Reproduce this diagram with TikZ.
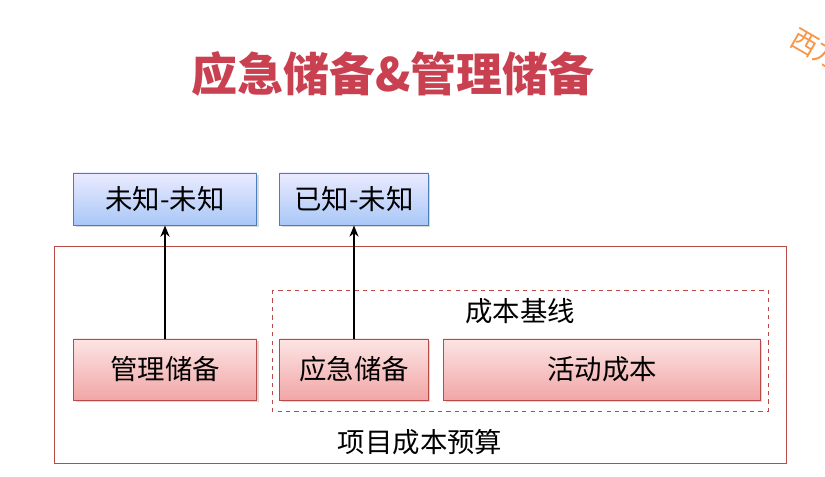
\documentclass[tikz,border=0pt]{standalone}
\usepackage{fontspec}
\setmainfont{Noto Sans CJK SC}
\usetikzlibrary{arrows.meta,shadows}
\definecolor{titlered}{RGB}{201,64,81}
\definecolor{boxred}{RGB}{185,74,72}
\definecolor{boxblue}{RGB}{74,126,187}
\definecolor{wmorange}{RGB}{247,150,70}
\begin{document}
\begin{tikzpicture}[x=0.025cm,y=-0.025cm,
    bluebox/.style={draw=boxblue,line width=0.7pt,top color=blue!8!white,bottom color={rgb,255:red,169;green,199;blue,247},
        minimum height=1.3cm,inner sep=0pt,drop shadow={shadow xshift=1.5pt,shadow yshift=-1.5pt,opacity=0.3}},
    redbox/.style={draw=boxred,line width=0.7pt,top color={rgb,255:red,252;green,228;blue,228},bottom color={rgb,255:red,242;green,166;blue,166},
        minimum height=1.525cm,inner sep=0pt,drop shadow={shadow xshift=1.5pt,shadow yshift=-1.5pt,opacity=0.3}},
    lbl/.style={font=\fontsize{19.5}{23}\selectfont}]
    \clip (0,0) rectangle (825,476);
    % title and corner mark
    \node[text=titlered,font=\fontsize{32.7}{38}\selectfont\bfseries] (T) at (393,74) {应急储备\&管理储备};
    \node[text=wmorange,font=\fontsize{19}{22}\selectfont,rotate=-30,anchor=west] (W) at (789,33) {西方};
    % frames
    \draw[boxred,line width=0.7pt] (54,246) rectangle (786,463);
    \draw[boxred,line width=0.7pt,dashed] (272,290) rectangle (768,411);
    \node[lbl] (L) at (520,311) {成本基线};
    \node[lbl] (P) at (420,442) {项目成本预算};
    % boxes
    \node[bluebox,lbl,minimum width=4.575cm] (U) at (165,199) {未知-未知};
    \node[bluebox,lbl,minimum width=3.7cm] (K) at (354,199) {已知-未知};
    \node[redbox,lbl,minimum width=4.575cm] (M) at (165,369.5) {管理储备};
    \node[redbox,lbl,minimum width=3.7cm] (C) at (354,369.5) {应急储备};
    \node[redbox,lbl,minimum width=7.9cm] (A) at (602,369.5) {活动成本};
    % arrows
    \draw[line width=1.4pt,-{Stealth[length=8pt,width=6.5pt]}] (M.north) -- (U.south);
    \draw[line width=1pt,-{Stealth[length=8pt,width=6.5pt]}] (C.north) -- (K.south);
\end{tikzpicture}
\end{document}
